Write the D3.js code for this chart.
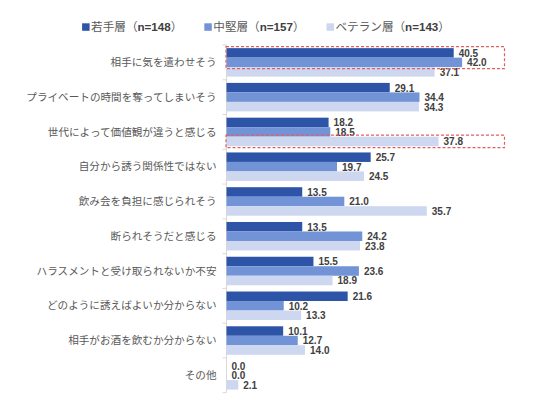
<!DOCTYPE html>
<html>
<head>
<meta charset="utf-8">
<script src="https://cdn.jsdelivr.net/npm/d3@7"></script>
<style>
body { margin: 0; background: #fff; }
</style>
</head>
<body>
<div class="chartBox"></div>
<script>
var categories = [
  "相手に気を遣わせそう",
  "プライベートの時間を奪ってしまいそう",
  "世代によって価値観が違うと感じる",
  "自分から誘う関係性ではない",
  "飲み会を負担に感じられそう",
  "断られそうだと感じる",
  "ハラスメントと受け取られないか不安",
  "どのように誘えばよいか分からない",
  "相手がお酒を飲むか分からない",
  "その他"
];
var seriesNames = ["若手層", "中堅層", "ベテラン層"];
var seriesN = ["n=148", "n=157", "n=143"];
var young   = [40.5, 29.1, 18.2, 25.7, 13.5, 13.5, 15.5, 21.6, 10.1, 0.0];
var middle  = [42.0, 34.4, 18.5, 19.7, 21.0, 24.2, 23.6, 10.2, 12.7, 0.0];
var veteran = [37.1, 34.3, 37.8, 24.5, 35.7, 23.8, 18.9, 13.3, 14.0, 2.1];
// highlighted boxes: category index, first and last series index
var highlights = [[0, 0, 1], [2, 2, 2]];

var width = 536;
var height = 412;
var colors = ["#2e54a8", "#7293d6", "#cdd8f0"];
var values = [young, middle, veteran];

var svg = d3.select(".chartBox").append("svg").attr("width", width).attr("height", height);

var x = d3.scaleLinear().domain([0, 50]).range([226.5, 507]);
var y = d3.scaleBand().domain(categories).range([45, 392.7]).paddingInner(0.18).paddingOuter(0.09);
var ys = d3.scaleBand().domain([0, 1, 2]).range([0, y.bandwidth()]);
var step = y.step();

// axis line + ticks at category boundaries
var axis = svg.append("g");
axis.append("line")
  .attr("x1", x(0)).attr("x2", x(0))
  .attr("y1", y.range()[0]).attr("y2", y.range()[1])
  .attr("stroke", "#d9d9d9").attr("stroke-width", 1);
var bounds = d3.range(categories.length + 1).map(function(i) { return y.range()[0] + i * step; });
axis.selectAll("line.tick").data(bounds).enter().append("line")
  .attr("class", "tick")
  .attr("x1", x(0) - 4).attr("x2", x(0))
  .attr("y1", function(d) { return d; }).attr("y2", function(d) { return d; })
  .attr("stroke", "#d9d9d9");

// category labels
svg.selectAll("text.cat").data(categories).enter().append("text")
  .attr("class", "cat")
  .attr("x", x(0) - 10)
  .attr("y", function(d) { return y(d) + y.bandwidth() / 2; })
  .attr("dy", "0.35em")
  .attr("text-anchor", "end")
  .attr("font-family", "'Noto Sans CJK JP', sans-serif")
  .attr("font-size", 10.6)
  .attr("fill", "#595959")
  .text(function(d) { return d; });

// bars
values.forEach(function(vals, s) {
  var g = svg.append("g");
  g.selectAll("rect").data(vals).enter().append("rect")
    .attr("x", x(0))
    .attr("y", function(d, i) { return y(categories[i]) + ys(s); })
    .attr("width", function(d) { return x(d) - x(0); })
    .attr("height", ys.bandwidth())
    .attr("fill", colors[s]);
  g.selectAll("text").data(vals).enter().append("text")
    .attr("x", function(d) { return x(d) + 5; })
    .attr("y", function(d, i) { return y(categories[i]) + ys(s) + ys.bandwidth() - 0.8; })
    .attr("font-family", "'Liberation Sans', Arial, sans-serif")
    .attr("font-weight", "bold")
    .attr("font-size", 10)
    .attr("fill", "#404040")
    .text(function(d) { return d.toFixed(1); });
});

// red dashed highlight boxes
svg.selectAll("rect.hl").data(highlights).enter().append("rect")
  .attr("class", "hl")
  .attr("x", x(0) - 0.5)
  .attr("y", function(d) { return y(categories[d[0]]) + ys(d[1]) - 1.5; })
  .attr("width", x(50) - 2 - x(0))
  .attr("height", function(d) { return ys(d[2]) - ys(d[1]) + ys.bandwidth() + 3; })
  .attr("fill", "none")
  .attr("stroke", "#e06060")
  .attr("stroke-width", 1.2)
  .attr("stroke-dasharray", "3,2");

// legend
var legend = svg.append("g");
var lx = 0;
seriesNames.forEach(function(name, i) {
  var item = legend.append("g").attr("transform", "translate(" + lx + ",0)");
  item.append("rect").attr("x", 0).attr("y", -3.7).attr("width", 7.5).attr("height", 7.5).attr("fill", colors[i]);
  var t = item.append("text")
    .attr("x", 9).attr("y", 0).attr("dy", "0.36em")
    .attr("font-family", "'Noto Sans CJK JP', sans-serif")
    .attr("font-size", 11.6)
    .attr("fill", "#595959");
  t.append("tspan").text(name + "（");
  t.append("tspan").attr("font-weight", "bold").attr("fill", "#404040")
    .attr("font-family", "'Liberation Sans', Arial, sans-serif").text(seriesN[i]);
  t.append("tspan").text("）");
  lx += 9 + t.node().getComputedTextLength() + 22;
});
var lw = lx - 22;
legend.attr("transform", "translate(" + (266 - lw / 2) + ",27)");
</script>
</body>
</html>
